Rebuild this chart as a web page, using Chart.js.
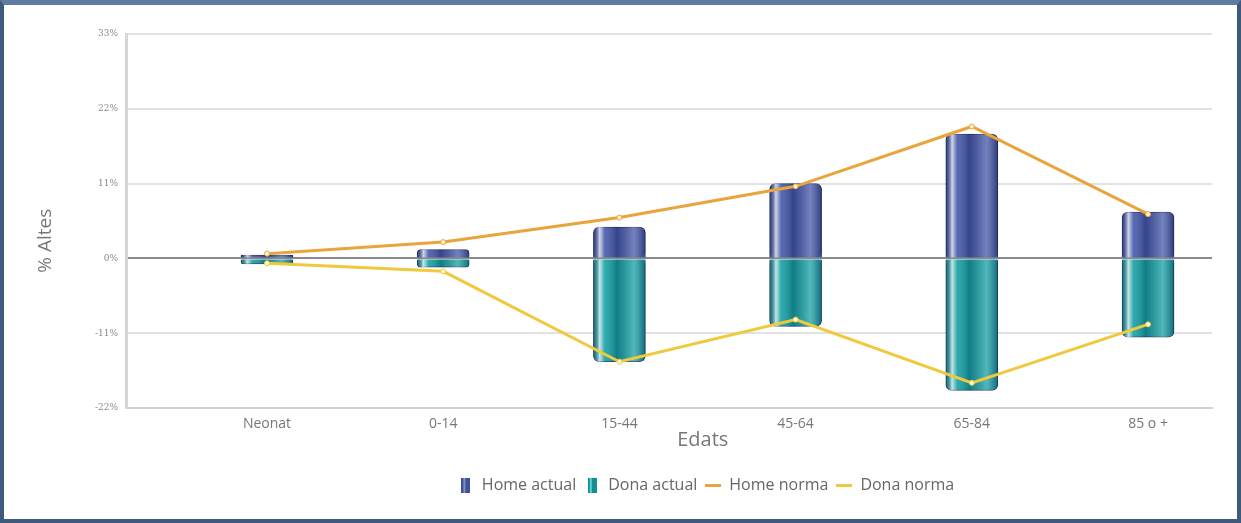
<!DOCTYPE html>
<html>
<head>
<meta charset="utf-8">
<script src="https://cdn.jsdelivr.net/npm/chart.js@4/dist/chart.umd.min.js"></script>
<style>
  html, body { margin: 0; padding: 0; background: #fff; }
  #wrap { position: relative; width: 1241px; height: 523px; }
  #frame {
    position: absolute; left: 0; top: 0; right: 0; bottom: 0;
    border: 4px solid #3e5a7e; border-top: 5px solid #5f7ba0;
    pointer-events: none; box-sizing: border-box;
  }
</style>
</head>
<body>
<div id="wrap">
  <canvas id="altesChart" width="1241" height="523"></canvas>
  <div id="frame"></div>
</div>
<script>
const categories = ['Neonat', '0-14', '15-44', '45-64', '65-84', '85 o +'];
const homeActual = [0.5, 1.3, 4.6, 11.0, 18.3, 6.8];
const donaActual = [-0.8, -1.3, -15.2, -10.0, -19.4, -11.6];
const homeNorma = [0.7, 2.4, 6.0, 10.6, 19.4, 6.5];
const donaNorma = [-0.7, -1.9, -15.2, -9.0, -18.3, -9.7];
const yTicks = [-22, -11, 0, 11, 22, 33];

const toPoints = arr => arr.map((v, i) => ({ x: i, y: v }));

// small icons for the legend
function icon(w, h, draw) {
  const c = document.createElement('canvas');
  c.width = w; c.height = h;
  draw(c.getContext('2d'), w, h);
  return c;
}
const legendIcons = [
  icon(9, 15, (g, w, h) => { g.fillStyle = '#3f5197'; g.fillRect(0, 0, w, h); g.fillStyle = '#7d8fd0'; g.fillRect(2, 0, 2, h); }),
  icon(9, 15, (g, w, h) => { g.fillStyle = '#138f92'; g.fillRect(0, 0, w, h); g.fillStyle = '#5fd2d2'; g.fillRect(2, 0, 2, h); }),
  icon(16, 3, (g, w, h) => { g.fillStyle = '#e9a43c'; g.fillRect(0, 0, w, h); }),
  icon(16, 3, (g, w, h) => { g.fillStyle = '#f0c93e'; g.fillRect(0, 0, w, h); })
];

// glossy cylinder shading over the bars
const glossPlugin = {
  id: 'gloss',
  afterLayout(chart) {
    // legend sits a bit right of centre in the original
    if (chart.legend) { chart.legend.left += 100; chart.legend.right += 100; }
  },
  afterDatasetDraw(chart, args) {
    const meta = args.meta;
    if (meta.type !== 'bar') return;
    const ctx = chart.ctx;
    meta.data.forEach(bar => {
      const p = bar.getProps(['x', 'y', 'base', 'width'], true);
      const left = p.x - p.width / 2, right = p.x + p.width / 2;
      const top = Math.min(p.y, p.base), bottom = Math.max(p.y, p.base);
      if (bottom - top < 1) return;
      const g = ctx.createLinearGradient(left, 0, right, 0);
      g.addColorStop(0, 'rgba(0,0,40,0.25)');
      g.addColorStop(0.12, 'rgba(255,255,255,0.75)');
      g.addColorStop(0.22, 'rgba(255,255,255,0.1)');
      g.addColorStop(0.45, 'rgba(0,0,30,0.22)');
      g.addColorStop(0.78, 'rgba(255,255,255,0.25)');
      g.addColorStop(1, 'rgba(0,0,40,0.35)');
      ctx.save();
      ctx.beginPath();
      if (ctx.roundRect) ctx.roundRect(left, top, p.width, bottom - top, 5); else ctx.rect(left, top, p.width, bottom - top);
      ctx.fillStyle = g;
      ctx.fill();
      ctx.restore();
    });
  }
};

new Chart(document.getElementById('altesChart').getContext('2d'), {
  data: {
    datasets: [
      {
        type: 'bar', label: 'Home actual', data: toPoints(homeActual), stack: 'bars',
        backgroundColor: '#4458a8', borderColor: '#2a3670', borderWidth: 1,
        borderRadius: 6, barThickness: 52, order: 2
      },
      {
        type: 'bar', label: 'Dona actual', data: toPoints(donaActual), stack: 'bars',
        backgroundColor: '#15a0a3', borderColor: '#2a4a70', borderWidth: 1,
        borderRadius: 6, barThickness: 52, order: 2
      },
      {
        type: 'line', label: 'Home norma', data: toPoints(homeNorma), stack: 'hn',
        borderColor: '#e9a43c', borderWidth: 3, pointRadius: 2.5,
        pointBackgroundColor: '#fff3c8', pointBorderColor: '#e9a43c', pointBorderWidth: 1, order: 1
      },
      {
        type: 'line', label: 'Dona norma', data: toPoints(donaNorma), stack: 'dn',
        borderColor: '#f0c93e', borderWidth: 3, pointRadius: 2.5,
        pointBackgroundColor: '#fff8d0', pointBorderColor: '#f0c93e', pointBorderWidth: 1, order: 1
      }
    ]
  },
  options: {
    responsive: false,
    animation: false,
    layout: { padding: { left: 0, right: 29, top: 34, bottom: 20 } },
    plugins: {
      tooltip: { enabled: false },
      legend: {
        position: 'bottom',
        labels: {
          usePointStyle: true,
          color: '#666',
          font: { family: 'Open Sans, Liberation Sans, sans-serif', size: 16 },
          padding: 8,
          sort: (a, b) => a.datasetIndex - b.datasetIndex,
          generateLabels(chart) {
            const items = Chart.defaults.plugins.legend.labels.generateLabels(chart);
            items.forEach(it => { it.pointStyle = legendIcons[it.datasetIndex]; });
            return items;
          }
        }
      }
    },
    scales: {
      x: {
        type: 'linear',
        offset: false,
        min: -0.8,
        max: 5.363,
        afterBuildTicks(scale) {
          scale.ticks = categories.map((c, i) => ({ value: i }));
        },
        afterFit(scale) { scale.height = 61; },
        grid: { display: false, drawTicks: false },
        border: { display: true, color: '#cfcfcf', width: 2 },
        ticks: {
          autoSkip: false, maxRotation: 0, padding: 8,
          color: '#777',
          font: { family: 'Open Sans, DejaVu Sans, sans-serif', size: 14 },
          callback: v => categories[v]
        },
        title: {
          display: true, text: '             Edats', color: '#777',
          font: { family: 'Open Sans, DejaVu Sans, sans-serif', size: 20 },
          padding: { top: 0, bottom: 17 }
        }
      },
      y: {
        stacked: true,
        min: -22,
        max: 33,
        afterBuildTicks(scale) {
          scale.ticks = yTicks.map(v => ({ value: v }));
        },
        afterFit(scale) { scale.width = 126; },
        grid: {
          drawTicks: false,
          color: ctx => ctx.tick && ctx.tick.value === 0 ? '#8a8a8a' : '#e2e2e2',
          lineWidth: 2
        },
        border: { display: true, color: '#d6d6d6', width: 3 },
        ticks: {
          padding: 8, color: '#8a8a8a',
          font: { family: 'DejaVu Serif, serif', size: 9 },
          callback: v => v + '%'
        },
        title: {
          display: true, text: '% Altes        ', color: '#777',
          font: { family: 'Open Sans, DejaVu Sans, sans-serif', size: 19 },
          padding: { top: 34, bottom: 0 }
        }
      }
    }
  },
  plugins: [glossPlugin]
});
</script>
</body>
</html>
